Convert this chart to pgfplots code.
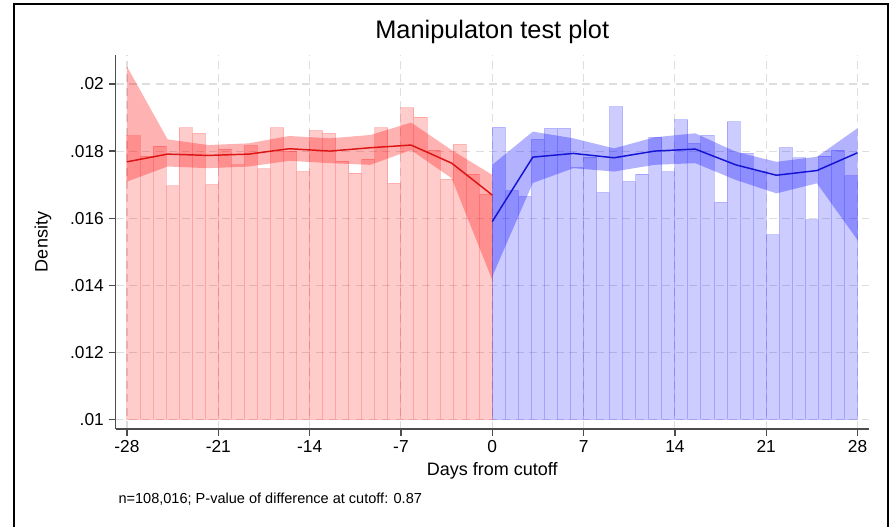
\documentclass[border=0pt]{standalone}
\usepackage{fontspec}
\setmainfont{Liberation Sans}
\usepackage{pgfplots}
\pgfplotsset{compat=1.18}
\usepackage{pgfplotstable}

\definecolor{barred}{RGB}{255,0,0}
\definecolor{barblue}{RGB}{0,0,255}
\definecolor{linered}{RGB}{220,20,20}
\definecolor{lineblue}{RGB}{20,20,210}

\pgfplotstableread{
x d
-27.5 0.01845
-26.5 0.01785
-25.5 0.01815
-24.5 0.01696
-23.5 0.01869
-22.5 0.01853
-21.5 0.01700
-20.5 0.01806
-19.5 0.01759
-18.5 0.01816
-17.5 0.01747
-16.5 0.01869
-15.5 0.01800
-14.5 0.01739
-13.5 0.01861
-12.5 0.01853
-11.5 0.01770
-10.5 0.01734
-9.5 0.01776
-8.5 0.01869
-7.5 0.01704
-6.5 0.01929
-5.5 0.01901
-4.5 0.01803
-3.5 0.01716
-2.5 0.01820
-1.5 0.01731
-0.5 0.01671
}\redbars

\pgfplotstableread{
x d
0.5 0.01871
1.5 0.01682
2.5 0.01664
3.5 0.01835
4.5 0.01868
5.5 0.01868
6.5 0.01751
7.5 0.01782
8.5 0.01676
9.5 0.01932
10.5 0.01709
11.5 0.01731
12.5 0.01841
13.5 0.01738
14.5 0.01893
15.5 0.01823
16.5 0.01847
17.5 0.01647
18.5 0.01887
19.5 0.01793
20.5 0.01739
21.5 0.01550
22.5 0.01810
23.5 0.01780
24.5 0.01595
25.5 0.01785
26.5 0.01803
27.5 0.01726
}\bluebars

% local fit: estimate
\pgfplotstableread{
x fit
-28 0.01768
-24.889 0.01791
-21.778 0.01787
-18.667 0.01791
-15.556 0.01807
-12.444 0.01800
-9.333 0.01810
-6.222 0.01818
-3.111 0.01764
0 0.01669
}\redfit

\pgfplotstableread{
x fit
0 0.01590
3.111 0.01782
6.222 0.01793
9.333 0.01780
12.444 0.01800
15.556 0.01806
18.667 0.01759
21.778 0.01728
24.889 0.01742
28 0.01795
}\bluefit

% confidence band outline: upper limit left to right, then lower limit right to left
\pgfplotstableread{
x y
-28 0.02052
-24.889 0.01835
-21.778 0.01818
-18.667 0.01823
-15.556 0.01845
-12.444 0.01838
-9.333 0.01848
-6.222 0.01885
-3.111 0.01803
0 0.01729
0 0.01416
-3.111 0.01719
-6.222 0.01803
-9.333 0.01759
-12.444 0.01764
-15.556 0.01771
-18.667 0.01754
-21.778 0.01749
-24.889 0.01754
-28 0.01709
}\redband

\pgfplotstableread{
x y
0 0.01759
3.111 0.01858
6.222 0.01838
9.333 0.01808
12.444 0.01841
15.556 0.01853
18.667 0.01798
21.778 0.01768
24.889 0.01783
28 0.01868
28 0.01535
24.889 0.01704
21.778 0.01674
18.667 0.01714
15.556 0.01764
12.444 0.01759
9.333 0.01739
6.222 0.01749
3.111 0.01705
0 0.01426
}\blueband

\begin{document}
\begin{tikzpicture}[x=0.75pt,y=0.75pt]
\path[use as bounding box] (0,0) rectangle (893,527);
\draw[line width=1.5pt, black] (14,-10)--(14,523)--(887.5,523)--(887.5,-10);

% main axis: grid, ticks, labels
\begin{axis}[
  at={(86.625pt,73.5pt)}, anchor=south west, scale only axis,
  width=565.125pt, height=280.5pt,
  xmin=-28.88, xmax=28.88, ymin=0.009717, ymax=0.020864,
  axis lines=left,
  axis line style={-, black!70, line width=1pt},
  scaled y ticks=false, scaled x ticks=false,
  xtick={-28,-21,-14,-7,0,7,14,21,28},
  xticklabels={-28,-21,-14,-7,0,7,14,21,28},
  ytick={0.01,0.012,0.014,0.016,0.018,0.02},
  yticklabels={.01,.012,.014,.016,.018,.02},
  tick align=outside, major tick length=5.25pt,
  tick style={black!70, line width=1pt},
  grid=major,
  major grid style={dash pattern=on 6pt off 4pt, black!13, line width=0.8pt},
  ticklabel style={font=\fontsize{13}{15}\selectfont},
  xlabel={Days from cutoff}, ylabel={Density},
  title={Manipulaton test plot},
  label style={font=\fontsize{13.5}{16}\selectfont},
  xlabel style={at={(axis description cs:0.5,-0.125)}, anchor=base},
  ylabel style={at={(axis description cs:-0.0962,0.5)}, anchor=center, rotate=0},
  title style={at={(axis description cs:0.5,1.024)}, anchor=base, font=\fontsize{19}{22}\selectfont},
]
\end{axis}

% data axis: bars start at .01
\begin{axis}[
  at={(86.625pt,80.625pt)}, anchor=south west, scale only axis,
  width=565.125pt, height=273.375pt,
  xmin=-28.88, xmax=28.88, ymin=0.01, ymax=0.020864,
  hide axis,
]
\addplot[ybar, bar width=1, bar shift=0pt, fill=barred, fill opacity=0.2, draw=barred, draw opacity=0.2, line width=0.75pt] table[x=x,y=d] {\redbars};
\addplot[ybar, bar width=1, bar shift=0pt, fill=barblue, fill opacity=0.2, draw=barblue, draw opacity=0.2, line width=0.75pt] table[x=x,y=d] {\bluebars};

\addplot[fill=barred, fill opacity=0.3, draw=none] table[x=x,y=y] {\redband} -- cycle;
\addplot[fill=barblue, fill opacity=0.3, draw=none] table[x=x,y=y] {\blueband} -- cycle;

\addplot[linered, line width=1.1pt, mark=none] table[x=x,y=fit] {\redfit};
\addplot[lineblue, line width=1.1pt, mark=none] table[x=x,y=fit] {\bluefit};
\end{axis}

\node[anchor=base west, font=\fontsize{10.9}{13}\selectfont, inner sep=0pt] at (118.3,23.5) {n=108,016; P-value of difference at cutoff: 0.87};
\end{tikzpicture}
\end{document}
